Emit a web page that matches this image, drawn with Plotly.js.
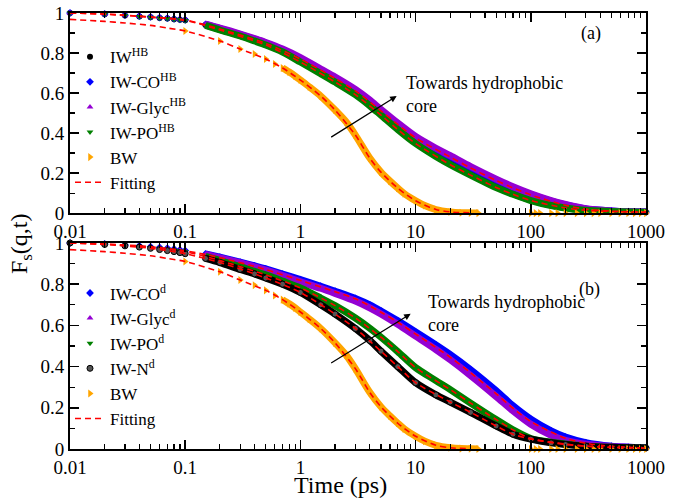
<!DOCTYPE html>
<html><head><meta charset="utf-8">
<script src="https://cdn.plot.ly/plotly-3.0.1.min.js"></script>
<style>html,body{margin:0;padding:0;background:#fff}#g{width:679px;height:502px}</style>
</head><body><div id="g"></div>
<script>
// ---- time grids (ps) ----
const tIW = [0.01,0.02,0.03,0.04,0.05,0.06,0.07,0.08,0.09,0.1,0.15,0.2,0.3,0.4,0.5,0.7,1,1.5,2,3,4,5,7,10,15,20,30,50,70,100,150,200,300,500,700,1000];
const tBW = [0.1,0.2,0.3,0.4,0.5,0.6,0.7,0.8,0.9,1,1.2,1.5,2,2.5,3,4,5,6,7,8,10,12,15,20,25,30,35];
const tBWtail = [100,110,120,150,170,200,250,300,350,400,500,600,700,800,900,1000];
const tFit = [0.01,0.02,0.05,0.1,0.2,0.5,1,2,3,5,7,10,20,30,50,70,100,200,300,500,1000];
const tFitBW = [0.01,0.02,0.03,0.05,0.07,0.1,0.2,0.3,0.5,0.7,1,1.5,2,3,4,5,7,10,15,20,30];

// ---- panel (a): hydrogen-bonded interfacial water ----
const fIW_HB   = [1.0,0.994,0.988,0.983,0.979,0.975,0.972,0.969,0.966,0.964,0.94,0.918,0.888,0.864,0.844,0.81,0.76,0.702,0.66,0.597,0.542,0.495,0.423,0.353,0.288,0.247,0.195,0.133,0.098,0.066,0.04,0.028,0.015,0.008,0.006,0.004];
const fCO_HB   = [1.0,0.995,0.989,0.984,0.981,0.977,0.974,0.971,0.968,0.966,0.943,0.922,0.892,0.869,0.85,0.816,0.771,0.714,0.674,0.612,0.559,0.512,0.444,0.377,0.318,0.281,0.227,0.165,0.127,0.093,0.06,0.041,0.021,0.011,0.007,0.005];
const fGlyc_HB = [1.0,0.995,0.99,0.985,0.982,0.978,0.975,0.972,0.97,0.967,0.945,0.925,0.895,0.872,0.853,0.82,0.777,0.72,0.68,0.618,0.565,0.518,0.45,0.383,0.324,0.287,0.233,0.17,0.132,0.097,0.063,0.043,0.022,0.011,0.007,0.005];
const fPO_HB   = [1.0,0.994,0.988,0.983,0.979,0.975,0.972,0.969,0.966,0.963,0.938,0.915,0.885,0.86,0.84,0.805,0.755,0.697,0.655,0.592,0.537,0.49,0.418,0.348,0.283,0.242,0.19,0.128,0.094,0.063,0.038,0.026,0.014,0.008,0.005,0.004];
const fitGlyc_HB = [1.0,0.995,0.98,0.965,0.92,0.848,0.77,0.673,0.611,0.511,0.443,0.376,0.28,0.226,0.163,0.126,0.091,0.039,0.02,0.01,0.005];
const fitPO_HB   = [1.0,0.994,0.979,0.963,0.915,0.84,0.755,0.655,0.592,0.49,0.418,0.348,0.242,0.19,0.128,0.094,0.063,0.026,0.014,0.008,0.004];

// ---- bulk water (both panels) ----
const fBW = [0.91,0.86,0.82,0.795,0.77,0.745,0.725,0.705,0.685,0.665,0.63,0.585,0.515,0.455,0.39,0.275,0.205,0.16,0.125,0.097,0.062,0.038,0.018,0.006,0.002,0.001,0.0];
const fBWtail = [0,0,0,0,0,0,0,0,0,0,0,0,0,0,0,0];
const fitBW = [0.968,0.958,0.95,0.938,0.925,0.91,0.86,0.82,0.77,0.725,0.665,0.585,0.515,0.39,0.275,0.205,0.125,0.062,0.018,0.006,0.001];

// ---- panel (b): interfacial water near lipid groups ----
const fCO_d   = [1.0,0.995,0.99,0.986,0.982,0.978,0.975,0.971,0.967,0.963,0.947,0.931,0.907,0.889,0.874,0.849,0.822,0.79,0.766,0.731,0.70,0.67,0.622,0.568,0.505,0.458,0.385,0.283,0.21,0.145,0.088,0.058,0.031,0.014,0.009,0.005];
const fGlyc_d = [1.0,0.995,0.99,0.986,0.982,0.978,0.974,0.97,0.966,0.962,0.945,0.928,0.903,0.884,0.868,0.842,0.812,0.78,0.755,0.718,0.685,0.655,0.605,0.548,0.483,0.433,0.357,0.255,0.185,0.12,0.067,0.042,0.023,0.012,0.008,0.005];
const fPO_d   = [1.0,0.994,0.988,0.983,0.978,0.974,0.97,0.966,0.962,0.958,0.935,0.915,0.885,0.862,0.845,0.815,0.782,0.733,0.696,0.636,0.586,0.543,0.473,0.395,0.332,0.288,0.223,0.143,0.093,0.051,0.033,0.024,0.014,0.008,0.006,0.005];
const fN_d    = [1.0,0.993,0.986,0.98,0.974,0.968,0.963,0.958,0.953,0.948,0.925,0.905,0.872,0.85,0.83,0.80,0.76,0.70,0.655,0.585,0.527,0.475,0.40,0.322,0.263,0.228,0.178,0.112,0.072,0.048,0.03,0.022,0.014,0.008,0.006,0.005];
const fitCO_d   = [1.0,0.995,0.982,0.962,0.929,0.871,0.818,0.763,0.729,0.664,0.615,0.558,0.445,0.37,0.268,0.198,0.133,0.052,0.028,0.013,0.005];
const fitPO_d   = [1.0,0.994,0.978,0.958,0.915,0.845,0.782,0.696,0.636,0.543,0.473,0.395,0.288,0.223,0.143,0.093,0.051,0.024,0.014,0.008,0.005];
const fitN_d    = [1.0,0.993,0.974,0.948,0.905,0.83,0.76,0.655,0.585,0.475,0.40,0.322,0.228,0.178,0.112,0.072,0.048,0.022,0.014,0.008,0.005];

// ---- axis ticks ----
const xTickVals = [0.01,0.1,1,10,100,1000];
const xTickText = ['0.01','0.1','1','10','100','1000'];
const yTickVals = [0,0.2,0.4,0.6,0.8,1];
const yTickText = ['0','0.2','0.4','0.6','0.8','1'];

const C = {black:'#000000', blue:'#0000ff', purple:'#9400d3', green:'#008000', orange:'#ffa500', red:'#ff0000'};
const FONT = 'Liberation Serif';
const BAND = 7;

function band(x, y, color, xa, ya, from) {
  return {x: x.slice(from), y: y.slice(from), mode:'lines', line:{color:color, width:BAND, shape:'spline', smoothing:0.8},
          xaxis:xa, yaxis:ya, showlegend:false, hoverinfo:'skip'};
}
function pts(x, y, color, sym, size, name, xa, ya, leg, rank, lineColor) {
  return {x:x, y:y, mode:'markers', name:name, cliponaxis:false,
          marker:{color:color, symbol:sym, size:size, line:{color:lineColor||color, width:lineColor?1:0}},
          xaxis:xa, yaxis:ya, legend:leg, legendrank:rank, showlegend:!!name};
}
function fit(x, y, xa, ya, name, leg, rank) {
  return {x:x, y:y, mode:'lines', name:name||'', line:{color:C.red, width:1.6, dash:'6px,4px', shape:'spline', smoothing:0.8},
          xaxis:xa, yaxis:ya, legend:leg, legendrank:rank||100, showlegend:!!name, hoverinfo:'skip'};
}

const traces = [
  // panel (a)
  band(tIW, fIW_HB, C.black, 'x', 'y', 10),
  pts(tIW, fIW_HB, C.black, 'circle', 6, 'IW<sup>HB</sup>', 'x', 'y', 'legend', 1),
  band(tIW, fCO_HB, C.blue, 'x', 'y', 10),
  pts(tIW, fCO_HB, C.blue, 'diamond', 6, 'IW-CO<sup>HB</sup>', 'x', 'y', 'legend', 2),
  band(tIW, fGlyc_HB, C.purple, 'x', 'y', 10),
  pts(tIW, fGlyc_HB, C.purple, 'triangle-up', 6, 'IW-Glyc<sup>HB</sup>', 'x', 'y', 'legend', 3),
  band(tIW, fPO_HB, C.green, 'x', 'y', 10),
  pts(tIW, fPO_HB, C.green, 'triangle-down', 6, 'IW-PO<sup>HB</sup>', 'x', 'y', 'legend', 4),
  band(tBW, fBW, C.orange, 'x', 'y', 6),
  pts(tBW, fBW, C.orange, 'triangle-right', 7, 'BW', 'x', 'y', 'legend', 5),
  pts(tBWtail, fBWtail, C.orange, 'triangle-right', 7, '', 'x', 'y', 'legend', 50),
  fit(tFit, fitGlyc_HB, 'x', 'y'),
  fit(tFit, fitPO_HB, 'x', 'y', 'Fitting', 'legend', 6),
  fit(tFitBW, fitBW, 'x', 'y'),
  // panel (b)
  band(tIW, fCO_d, C.blue, 'x2', 'y2', 10),
  pts(tIW, fCO_d, C.blue, 'diamond', 6, 'IW-CO<sup>d</sup>', 'x2', 'y2', 'legend2', 1),
  band(tIW, fGlyc_d, C.purple, 'x2', 'y2', 10),
  pts(tIW, fGlyc_d, C.purple, 'triangle-up', 6, 'IW-Glyc<sup>d</sup>', 'x2', 'y2', 'legend2', 2),
  band(tIW, fPO_d, C.green, 'x2', 'y2', 10),
  pts(tIW, fPO_d, C.green, 'triangle-down', 6, 'IW-PO<sup>d</sup>', 'x2', 'y2', 'legend2', 3),
  band(tIW, fN_d, C.black, 'x2', 'y2', 10),
  pts(tIW, fN_d, '#555555', 'circle', 6, 'IW-N<sup>d</sup>', 'x2', 'y2', 'legend2', 4, C.black),
  band(tBW, fBW, C.orange, 'x2', 'y2', 6),
  pts(tBW, fBW, C.orange, 'triangle-right', 7, 'BW', 'x2', 'y2', 'legend2', 5),
  pts(tBWtail, fBWtail, C.orange, 'triangle-right', 7, '', 'x2', 'y2', 'legend2', 50),
  fit(tFit, fitCO_d, 'x2', 'y2'),
  fit(tFit, fitPO_d, 'x2', 'y2'),
  fit(tFit, fitN_d, 'x2', 'y2', 'Fitting', 'legend2', 6),
  fit(tFitBW, fitBW, 'x2', 'y2')
];

function xax(anchor) {
  return {type:'log', range:[-2,3], anchor:anchor, tickvals:xTickVals, ticktext:xTickText,
    ticks:'inside', ticklen:9, tickwidth:1.5, tickcolor:'#000', showline:true, linewidth:2, linecolor:'#000',
    mirror:'allticks', showgrid:false, zeroline:false,
    minor:{ticks:'inside', ticklen:5, tickwidth:1.2, tickcolor:'#000', dtick:'D1', showgrid:false},
    tickfont:{family:FONT, size:19, color:'#000'}};
}
function yax(anchor, dom) {
  return {range:[0,1], domain:dom, anchor:anchor, tickvals:yTickVals, ticktext:yTickText,
    ticks:'inside', ticklen:9, tickwidth:1.5, tickcolor:'#000', showline:true, linewidth:2, linecolor:'#000',
    mirror:'allticks', showgrid:false, zeroline:false,
    minor:{ticks:'inside', ticklen:5, tickwidth:1.2, tickcolor:'#000', dtick:0.1, showgrid:false},
    tickfont:{family:FONT, size:19, color:'#000'}};
}

const legendBase = {bgcolor:'rgba(0,0,0,0)', font:{family:FONT, size:17, color:'#000'},
  tracegroupgap:0, itemwidth:30, xanchor:'left', yanchor:'top', traceorder:'normal'};

const layout = {
  width:679, height:502,
  margin:{l:70, r:33, t:13, b:53},
  paper_bgcolor:'#fff', plot_bgcolor:'#fff',
  font:{family:FONT, color:'#000'},
  xaxis: xax('y'),
  yaxis: yax('x', [0.541, 1]),
  xaxis2: xax('y2'),
  yaxis2: yax('x2', [0, 0.4725]),
  legend: Object.assign({x:0.0, y:0.94}, legendBase),
  legend2: Object.assign({x:0.0, y:0.398}, legendBase),
  annotations: [
    {text:'F<sub>s</sub>(q,t)', xref:'paper', yref:'paper', x:-0.085, y:0.47, textangle:-90,
     showarrow:false, font:{family:FONT, size:24}, xanchor:'center', yanchor:'middle'},
    {text:'Time (ps)', xref:'paper', yref:'paper', x:0.47, y:-0.083, showarrow:false,
     font:{family:FONT, size:24}, xanchor:'center', yanchor:'middle'},
    {text:'(a)', xref:'x', yref:'y', x:Math.log10(336), y:0.9, showarrow:false, font:{family:FONT, size:18}},
    {text:'(b)', xref:'x2', yref:'y2', x:Math.log10(324), y:0.772, showarrow:false, font:{family:FONT, size:18}},
    {text:'Towards hydrophobic<br>core', xref:'x', yref:'y', x:Math.log10(8.0), y:0.595, showarrow:false,
     xanchor:'left', yanchor:'middle', align:'left', font:{family:FONT, size:18}},
    {text:'Towards hydrophobic<br>core', xref:'x2', yref:'y2', x:Math.log10(12.2), y:0.66, showarrow:false,
     xanchor:'left', yanchor:'middle', align:'left', font:{family:FONT, size:18}},
    {text:'', xref:'x', yref:'y', x:Math.log10(6.85), y:0.585, ax:-67, ay:42, showarrow:true,
     arrowhead:2, arrowsize:1, arrowwidth:1.3, arrowcolor:'#000'},
    {text:'', xref:'x2', yref:'y2', x:Math.log10(9.06), y:0.656, ax:-81, ay:50, showarrow:true,
     arrowhead:2, arrowsize:1, arrowwidth:1.3, arrowcolor:'#000'}
  ]
};

Plotly.newPlot('g', traces, layout, {displayModeBar:false, staticPlot:true});
</script></body></html>
